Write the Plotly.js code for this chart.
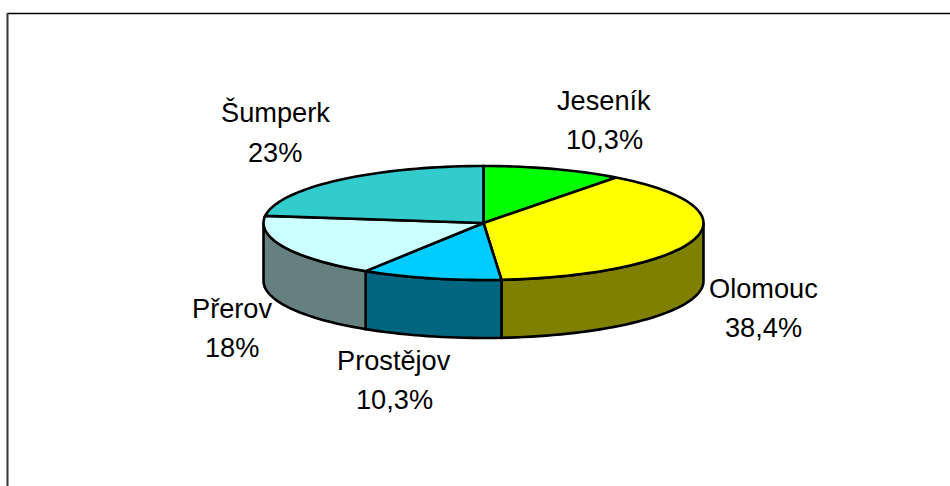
<!DOCTYPE html>
<html>
<head>
<meta charset="utf-8">
<script src="https://cdn.plot.ly/plotly-3.0.1.min.js"></script>
<style>html,body{margin:0;padding:0;background:#fff}#c{width:950px;height:486px}</style>
</head>
<body>
<div id="c"></div>
<script>
const categories = ["Jeseník", "Olomouc", "Prostějov", "Přerov", "Šumperk"];
const values = [10.3, 38.4, 10.3, 18, 23];
const valueLabels = ["10,3%", "38,4%", "10,3%", "18%", "23%"];
const topColors = ["#00FF00", "#FFFF00", "#00CCFF", "#CCFFFF", "#33CCCC"];
const wallColors = ["#008000", "#808000", "#006680", "#668080", "#1A6666"];
const labelCenterX = [604, 763.5, 394, 232, 275];
const labelNameY = [100, 288, 360, 308, 112];
const labelValueY = [139, 327, 399, 347, 152];

const cx = 483.5, cy = 223, rx = 220, ry = 57, depth = 58;
const total = values.reduce((a, b) => a + b, 0);

function pt(deg, dy) {
  const r = deg * Math.PI / 180;
  return [cx + rx * Math.sin(r), cy - ry * Math.cos(r) + (dy || 0)];
}
function arc(a0, a1, dy) {
  const out = [], n = Math.max(2, Math.ceil(Math.abs(a1 - a0) / 2));
  for (let i = 0; i <= n; i++) out.push(pt(a0 + (a1 - a0) * i / n, dy));
  return out;
}
function poly(points, fill) {
  return {
    type: "scatter", mode: "lines", fill: "toself", fillcolor: fill,
    x: points.map(p => p[0]), y: points.map(p => p[1]),
    line: {color: "#000", width: 2.6, simplify: false},
    hoverinfo: "skip", showlegend: false
  };
}

const walls = [], tops = [];
let cum = 0;
values.forEach((v, i) => {
  const a0 = cum / total * 360, a1 = (cum + v) / total * 360;
  cum += v;
  const w0 = Math.max(a0, 90), w1 = Math.min(a1, 270);
  if (w1 > w0) {
    const pts = arc(w0, w1, 0).concat(arc(w1, w0, depth));
    pts.push(pts[0]);
    walls.push(poly(pts, wallColors[i]));
  }
  const pts = [[cx, cy]].concat(arc(a0, a1, 0));
  pts.push([cx, cy]);
  tops.push(poly(pts, topColors[i]));
});

const font = {family: "Liberation Sans, Arial, sans-serif", size: 27.2, color: "#000"};
const annotations = [];
categories.forEach((c, i) => {
  annotations.push({x: labelCenterX[i], y: labelNameY[i], text: c, showarrow: false, xanchor: "center", yanchor: "middle", font});
  annotations.push({x: labelCenterX[i], y: labelValueY[i], text: valueLabels[i], showarrow: false, xanchor: "center", yanchor: "middle", font});
});

const layout = {
  width: 950, height: 486,
  margin: {l: 0, r: 0, t: 0, b: 0},
  paper_bgcolor: "#fff", plot_bgcolor: "#fff",
  xaxis: {range: [0, 950], visible: false, fixedrange: true},
  yaxis: {range: [486, 0], visible: false, fixedrange: true},
  showlegend: false,
  annotations,
  shapes: [
    {type: "line", x0: 7.5, x1: 950, y0: 13.5, y1: 13.5, line: {color: "#000", width: 1.5}},
    {type: "line", x0: 7.5, x1: 7.5, y0: 13, y1: 486, line: {color: "#333", width: 2}}
  ]
};
Plotly.newPlot("c", walls.concat(tops), layout, {displayModeBar: false, staticPlot: true});
</script>
</body>
</html>
